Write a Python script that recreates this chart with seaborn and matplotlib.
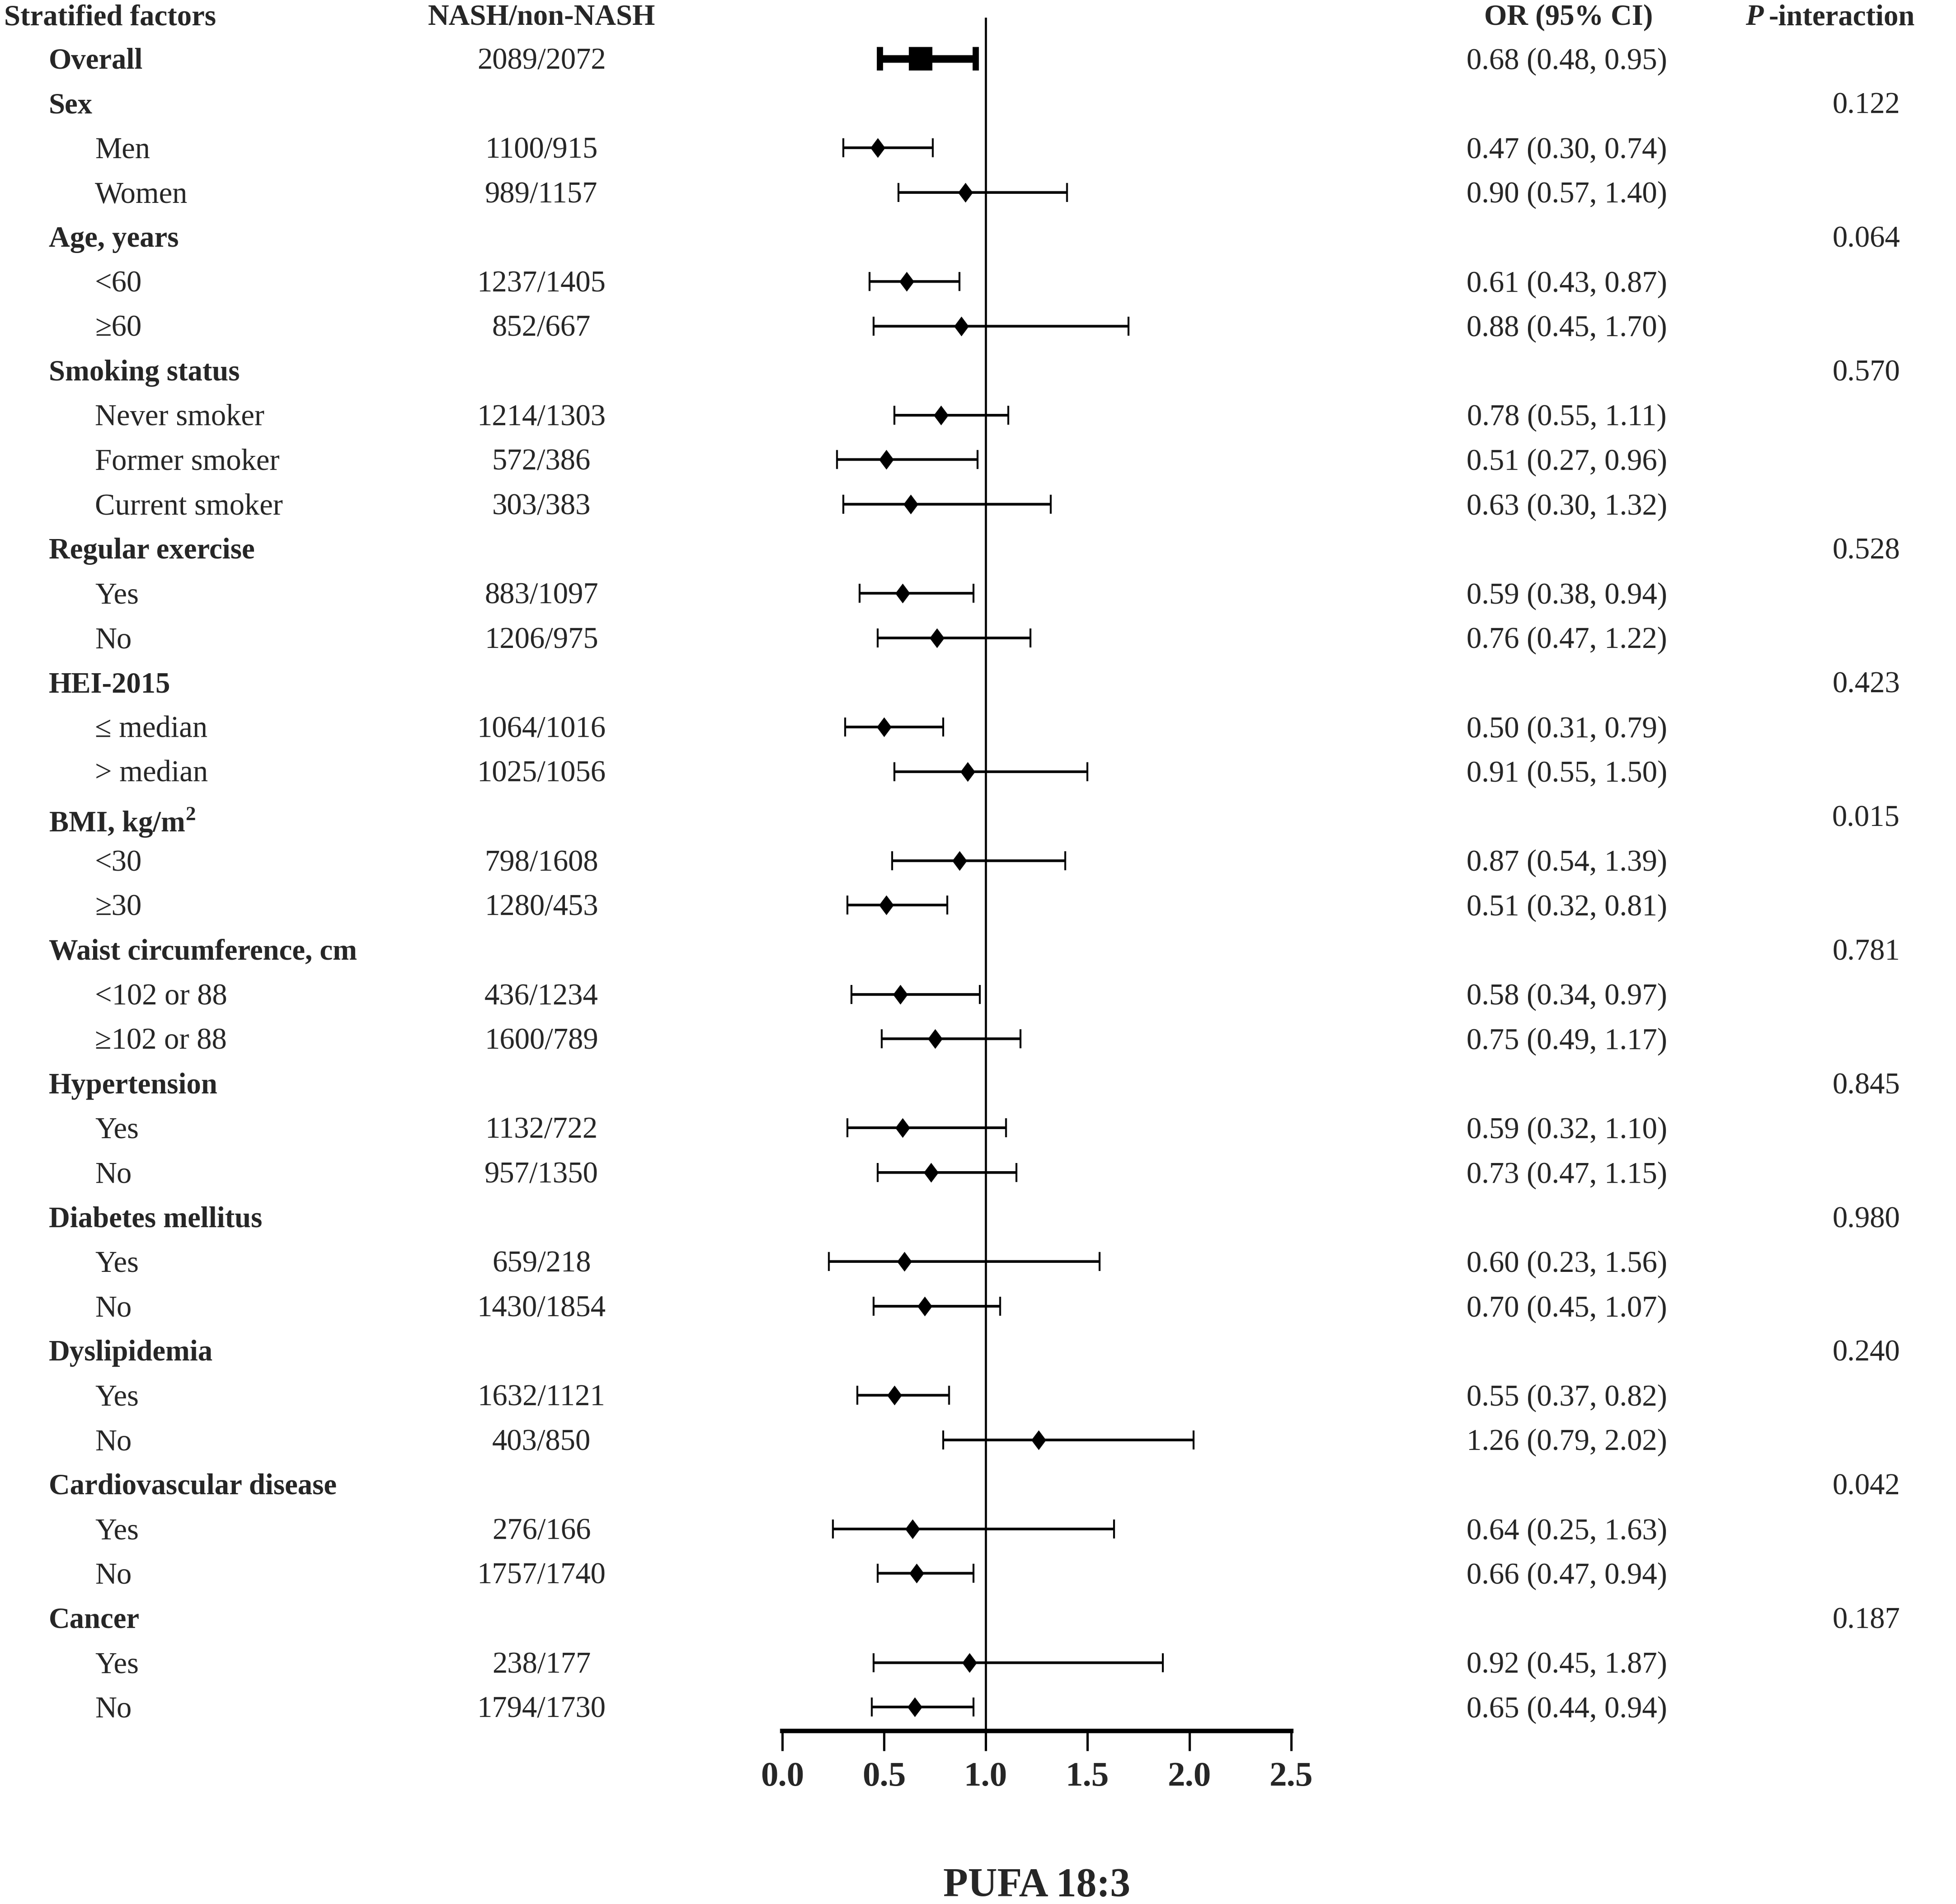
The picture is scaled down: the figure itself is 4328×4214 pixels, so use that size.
import numpy as np
import matplotlib
matplotlib.use("Agg")
import matplotlib.pyplot as plt
import matplotlib.transforms as mtransforms
from matplotlib.path import Path
import seaborn as sns

# rows of the forest plot, top to bottom
labels = ["Overall",
          "Sex", "Men", "Women",
          "Age, years", "<60", "\u226560",
          "Smoking status", "Never smoker", "Former smoker", "Current smoker",
          "Regular exercise", "Yes", "No",
          "HEI-2015", "\u2264 median", "> median",
          r"BMI, kg/m$^{\mathbf{2}}$", "<30", "\u226530",
          "Waist circumference, cm", "<102 or 88", "\u2265102 or 88",
          "Hypertension", "Yes", "No",
          "Diabetes mellitus", "Yes", "No",
          "Dyslipidemia", "Yes", "No",
          "Cardiovascular disease", "Yes", "No",
          "Cancer", "Yes", "No"]
is_group = [1,
            1, 0, 0,
            1, 0, 0,
            1, 0, 0, 0,
            1, 0, 0,
            1, 0, 0,
            1, 0, 0,
            1, 0, 0,
            1, 0, 0,
            1, 0, 0,
            1, 0, 0,
            1, 0, 0,
            1, 0, 0]
counts = ["2089/2072",
          "", "1100/915", "989/1157",
          "", "1237/1405", "852/667",
          "", "1214/1303", "572/386", "303/383",
          "", "883/1097", "1206/975",
          "", "1064/1016", "1025/1056",
          "", "798/1608", "1280/453",
          "", "436/1234", "1600/789",
          "", "1132/722", "957/1350",
          "", "659/218", "1430/1854",
          "", "1632/1121", "403/850",
          "", "276/166", "1757/1740",
          "", "238/177", "1794/1730"]
nan = np.nan
odds = [0.68,
        nan, 0.47, 0.90,
        nan, 0.61, 0.88,
        nan, 0.78, 0.51, 0.63,
        nan, 0.59, 0.76,
        nan, 0.50, 0.91,
        nan, 0.87, 0.51,
        nan, 0.58, 0.75,
        nan, 0.59, 0.73,
        nan, 0.60, 0.70,
        nan, 0.55, 1.26,
        nan, 0.64, 0.66,
        nan, 0.92, 0.65]
ci_low = [0.48,
          nan, 0.30, 0.57,
          nan, 0.43, 0.45,
          nan, 0.55, 0.27, 0.30,
          nan, 0.38, 0.47,
          nan, 0.31, 0.55,
          nan, 0.54, 0.32,
          nan, 0.34, 0.49,
          nan, 0.32, 0.47,
          nan, 0.23, 0.45,
          nan, 0.37, 0.79,
          nan, 0.25, 0.47,
          nan, 0.45, 0.44]
ci_high = [0.95,
           nan, 0.74, 1.40,
           nan, 0.87, 1.70,
           nan, 1.11, 0.96, 1.32,
           nan, 0.94, 1.22,
           nan, 0.79, 1.50,
           nan, 1.39, 0.81,
           nan, 0.97, 1.17,
           nan, 1.10, 1.15,
           nan, 1.56, 1.07,
           nan, 0.82, 2.02,
           nan, 1.63, 0.94,
           nan, 1.87, 0.94]
p_interaction = [nan,
                 0.122, nan, nan,
                 0.064, nan, nan,
                 0.570, nan, nan, nan,
                 0.528, nan, nan,
                 0.423, nan, nan,
                 0.015, nan, nan,
                 0.781, nan, nan,
                 0.845, nan, nan,
                 0.980, nan, nan,
                 0.240, nan, nan,
                 0.042, nan, nan,
                 0.187, nan, nan]
x_ticks = [0.0, 0.5, 1.0, 1.5, 2.0, 2.5]
panel_title = "PUFA 18:3"

odds = np.array(odds)
ci_low = np.array(ci_low)
ci_high = np.array(ci_high)
rows = np.arange(len(labels))

sns.set_style("white")
plt.rcParams["font.family"] = ["Liberation Serif", "DejaVu Serif"]
plt.rcParams["font.size"] = 16
plt.rcParams["mathtext.fontset"] = "custom"
plt.rcParams["mathtext.rm"] = "Liberation Serif"
plt.rcParams["mathtext.bf"] = "Liberation Serif:bold"
BOLD_SIZE = 15.5

fig = plt.figure(figsize=(4328 / 300, 4214 / 300), dpi=300)
ax = fig.add_axes([0.3999, 0.0910, 0.2602, 0.8998])

# vertical reference line at OR = 1
ax.axvline(1.0, color="black", lw=1.1, zorder=1)

# overall estimate: square with heavy CI
ax.errorbar(odds[:1], rows[:1], xerr=[odds[:1] - ci_low[:1], ci_high[:1] - odds[:1]],
            fmt="none", ecolor="black", elinewidth=4, capsize=6.3, capthick=3.3, zorder=2)
sns.scatterplot(x=odds[:1], y=rows[:1], marker="s", s=160, color="black",
                linewidth=0, ax=ax, zorder=3)

# subgroups: diamonds with thin CI
sub = ~np.isnan(odds) & (rows > 0)
ax.errorbar(odds[sub], rows[sub], xerr=[odds[sub] - ci_low[sub], ci_high[sub] - odds[sub]],
            fmt="none", ecolor="black", elinewidth=1.4, capsize=5, capthick=1.0, zorder=2)
diamond = Path([(0, 1), (0.75, 0), (0, -1), (-0.75, 0), (0, 1)],
               [Path.MOVETO, Path.LINETO, Path.LINETO, Path.LINETO, Path.CLOSEPOLY])
sns.scatterplot(x=odds[sub], y=rows[sub], marker=diamond, s=110, color="black",
                linewidth=0, ax=ax, zorder=3)

ax.set_xlim(0, 2.5)
ax.set_ylim(37.53, -0.924)
ax.set_xticks(x_ticks)
ax.set_xticklabels([f"{t:.1f}" for t in x_ticks], fontsize=18.5, fontweight="bold")
ax.set_yticks([])
ax.set_xlabel("")
ax.set_ylabel("")
for side in ["top", "left", "right"]:
    ax.spines[side].set_visible(False)
ax.spines["bottom"].set_linewidth(2.4)
ax.spines["bottom"].set_color("black")
ax.tick_params(axis="x", bottom=True, direction="out", length=10.5, width=1.2,
               color="black", pad=6)

# table columns
tr = mtransforms.blended_transform_factory(fig.transFigure, ax.transData)
dy = 0.06
head_y = -0.98 + dy
fig.text(0.002, head_y, "Stratified factors", transform=tr, ha="left", va="center",
         fontweight="bold", fontsize=BOLD_SIZE)
fig.text(0.2768, head_y, "NASH/non-NASH", transform=tr, ha="center", va="center",
         fontweight="bold", fontsize=BOLD_SIZE)
fig.text(0.8020, head_y, "OR (95% CI)", transform=tr, ha="center", va="center",
         fontweight="bold", fontsize=BOLD_SIZE)
t_int = fig.text(0.979, head_y, "-interaction", transform=tr, ha="right", va="center",
                 fontweight="bold", fontsize=BOLD_SIZE)
ax.annotate("P", xy=(0, 0.5), xycoords=t_int, xytext=(-3, 0), textcoords="offset points",
            ha="right", va="center", fontweight="bold", fontstyle="italic",
            fontsize=BOLD_SIZE, annotation_clip=False)

for i, lab in enumerate(labels):
    y = i + dy
    if is_group[i]:
        fig.text(0.0249, y, lab, transform=tr, ha="left", va="center_baseline" if "$" in lab else "center",
                 fontweight="bold", fontsize=BOLD_SIZE)
    else:
        fig.text(0.0485, y, lab, transform=tr, ha="left", va="center")
    if counts[i]:
        fig.text(0.2768, y, counts[i], transform=tr, ha="center", va="center")
    if not np.isnan(odds[i]):
        fig.text(0.8010, y, f"{odds[i]:.2f} ({ci_low[i]:.2f}, {ci_high[i]:.2f})",
                 transform=tr, ha="center", va="center")
    if not np.isnan(p_interaction[i]):
        fig.text(0.9713, y, f"{p_interaction[i]:.3f}", transform=tr, ha="right", va="center")

fig.text(0.530, 0.0092, panel_title, ha="center", va="center", fontsize=21.5,
         fontweight="bold")

fig.savefig("out.png", dpi=300, facecolor="white")
